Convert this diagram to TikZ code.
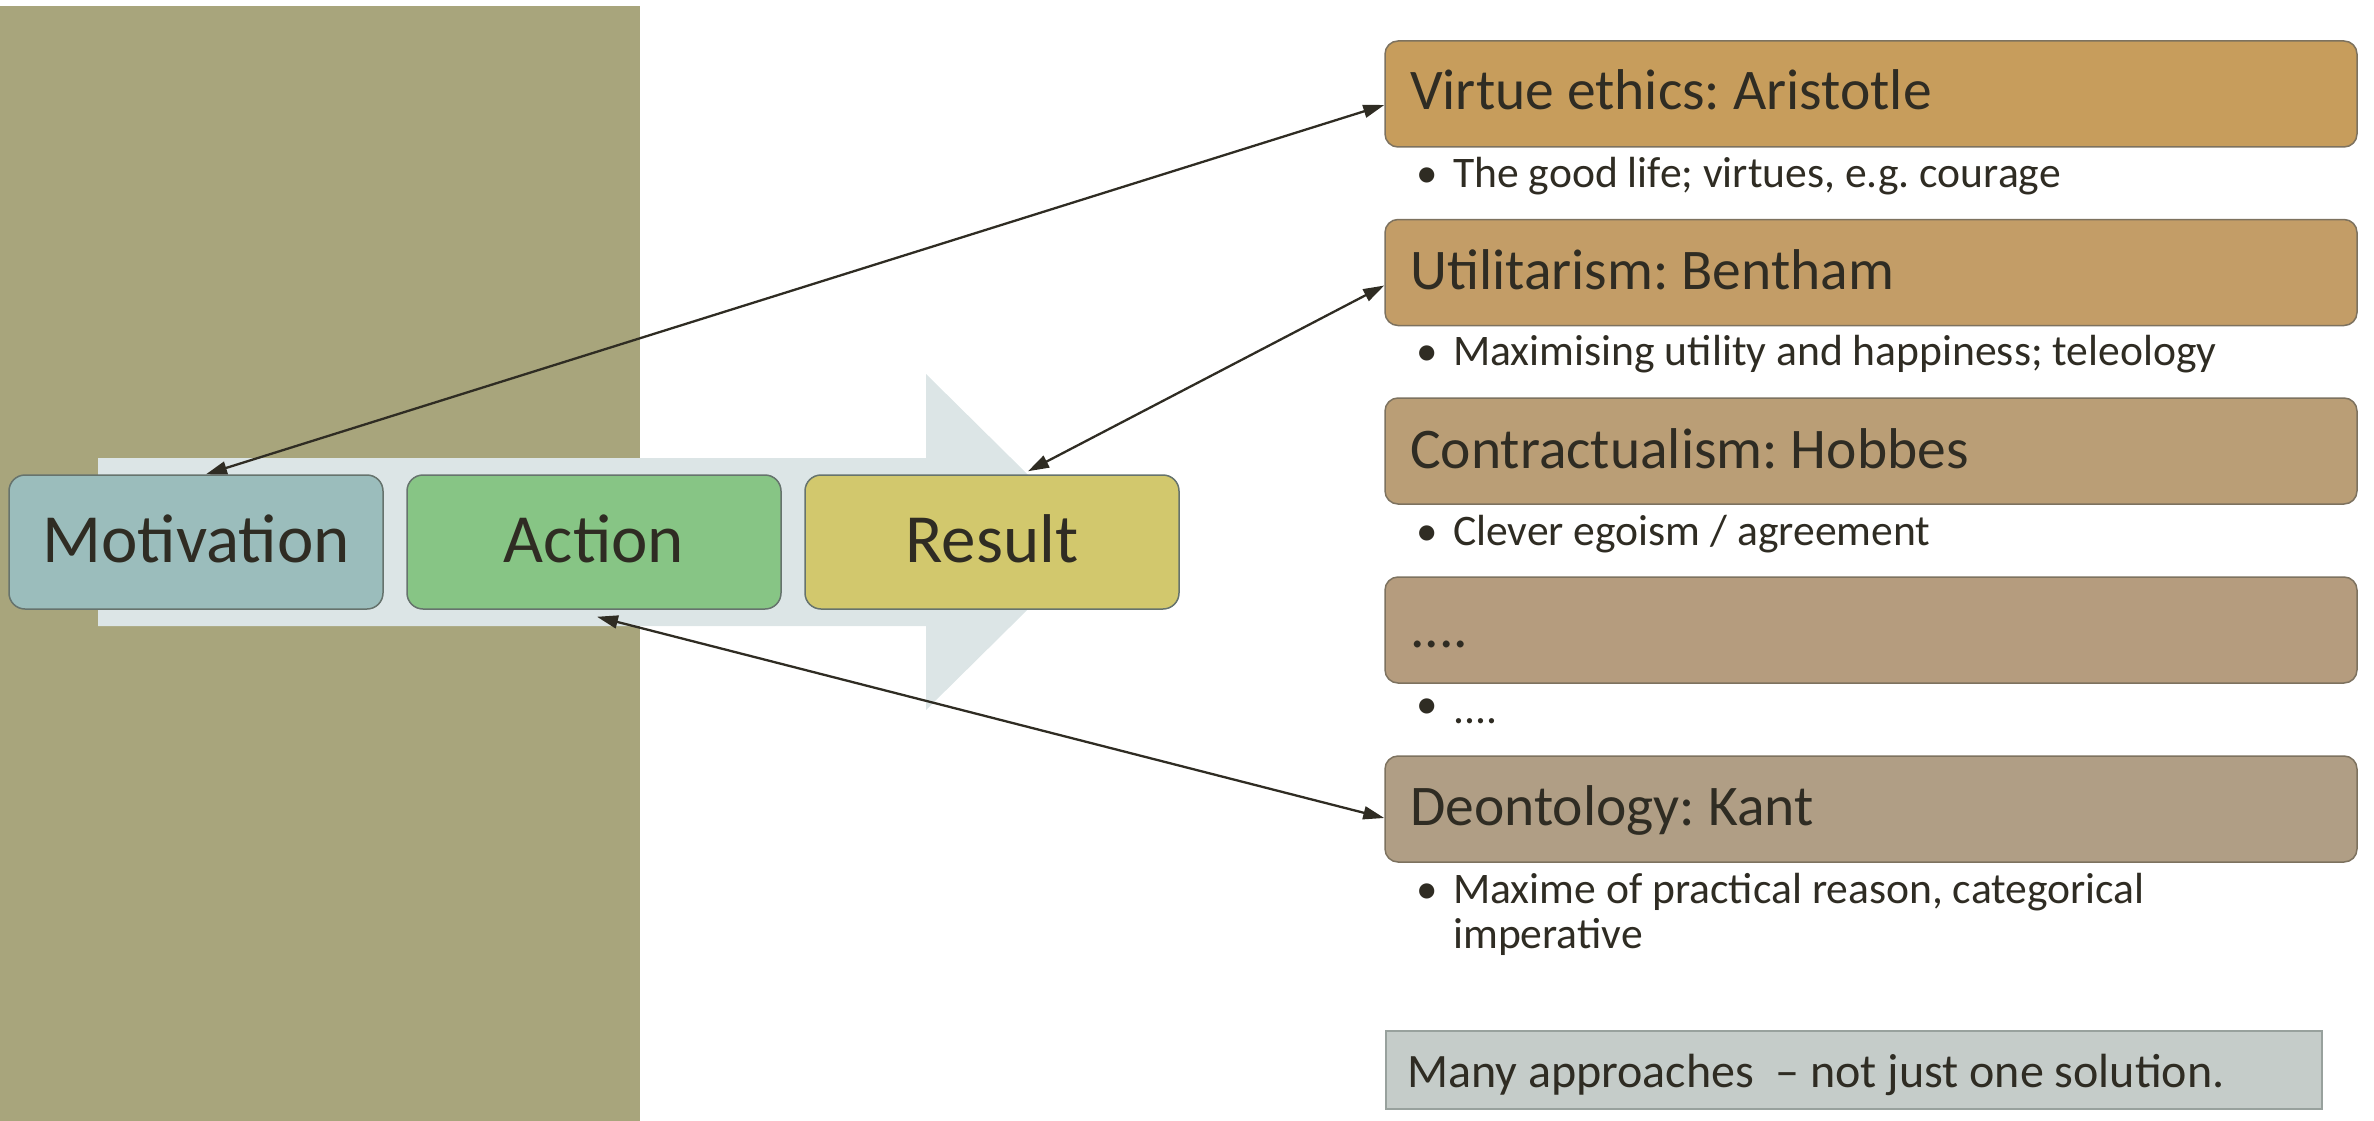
\documentclass[tikz,border=0pt]{standalone}
\usepackage{fontspec}
\setmainfont{Carlito}
\usetikzlibrary{arrows.meta}
\frenchspacing
\definecolor{bgOlive}{HTML}{A8A57C}
\definecolor{bigArrowC}{HTML}{DCE5E6}
\definecolor{motC}{HTML}{9BBDBC}
\definecolor{actC}{HTML}{87C585}
\definecolor{resC}{HTML}{D2C86D}
\definecolor{lLine}{HTML}{66736D}
\definecolor{rLine}{HTML}{7D725F}
\definecolor{virC}{HTML}{C79D5C}
\definecolor{utiC}{HTML}{C39D67}
\definecolor{conC}{HTML}{BA9E76}
\definecolor{dotC}{HTML}{B59C7E}
\definecolor{deoC}{HTML}{B09E85}
\definecolor{manyC}{HTML}{C5CCC9}
\definecolor{manyLine}{HTML}{98A19D}
\definecolor{txtC}{HTML}{2F2C23}
\begin{document}
\begin{tikzpicture}[x=1pt,y=-1pt,
  lbox/.style={draw=lLine, line width=1.5pt, rounded corners=16pt,
    minimum width=374pt, minimum height=134pt, inner sep=0pt,
    text height=40pt, text depth=0pt,
    font=\fontsize{69}{80}\selectfont, text=txtC},
  rbox/.style={draw=rLine, line width=1.5pt, rounded corners=13pt,
    minimum width=972pt, minimum height=106pt, inner sep=0pt},
  title/.style={anchor=base west, inner sep=0pt,
    font=\fontsize{57.5}{66}\selectfont, text=txtC},
  bul/.style={anchor=base, inner sep=0pt,
    font=\fontsize{43}{50}\selectfont, text=txtC},
  btext/.style={anchor=base west, inner sep=0pt,
    font=\fontsize{43.6}{50}\selectfont, text=txtC},
  link/.style={draw=txtC, line width=2.3pt,
    {Triangle[length=21pt,width=13pt]}-{Triangle[length=21pt,width=13pt]}}
]
\useasboundingbox (0,0) rectangle (2374,1121);
% background panel
\fill[bgOlive] (0,6) rectangle (640,1121);
% big process arrow
\fill[bigArrowC] (98,458) -- (926,458) -- (926,374) -- (1096,542)
  -- (926,710) -- (926,626) -- (98,626) -- cycle;
% left boxes
\node[lbox, fill=motC] (mot) at (196,542) {Motivation};
\node[lbox, fill=actC] (act) at (594,542) {Action};
\node[lbox, fill=resC] (res) at (992,542) {Result};
% right boxes
\node[rbox, fill=virC] (vir) at (1871,94) {};
\node[rbox, fill=utiC] (uti) at (1871,272.5) {};
\node[rbox, fill=conC] (con) at (1871,451) {};
\node[rbox, fill=dotC] (dts) at (1871,630) {};
\node[rbox, fill=deoC] (deo) at (1871,809) {};
% titles
\node[title] (virT) at (1410,110) {Virtue ethics: Aristotle};
\node[title] (utiT) at (1410,289) {Utilitarism: Bentham};
\node[title] (conT) at (1410,468) {Contractualism: Hobbes};
\node[title] (dtsT) at (1410,647) {....};
\node[title] (deoT) at (1410,825) {Deontology: Kant};
% bullets
\node[bul] (virB) at (1427,187) {\textbullet};
\node[btext] (virX) at (1453,187) {The good life; virtues, e.g. courage};
\node[bul] (utiB) at (1427,365) {\textbullet};
\node[btext] (utiX) at (1453,365) {Maximising utility and happiness; teleology};
\node[bul] (conB) at (1427,545) {\textbullet};
\node[btext] (conX) at (1453,545) {Clever egoism / agreement};
\node[bul] (dtsB) at (1427,718) {\textbullet};
\node[btext] (dtsX) at (1453,723) {....};
\node[bul] (deoB) at (1427,903) {\textbullet};
\node[btext] (deoX1) at (1453,903) {Maxime of practical reason, categorical};
\node[btext] (deoX2) at (1453,948) {imperative};
% conclusion box
\node[draw=manyLine, line width=1.5pt, fill=manyC, minimum width=936pt,
  minimum height=78pt, inner sep=0pt] (many) at (1854,1070) {};
\node[anchor=base west, inner sep=0pt, font=\fontsize{48}{58}\selectfont,
  text=txtC] (manyT) at (1407,1087) {Many approaches~ \textendash{} not just one solution.};
% connectors
\draw[link] ([xshift=10pt]mot.north) -- ([yshift=-11pt]vir.west);
\draw[link] ([xshift=36pt,yshift=3pt]res.north) -- ([yshift=-13pt]uti.west);
\draw[link] ([xshift=3pt,yshift=-7pt]act.south) -- ([yshift=-9pt]deo.west);
\end{tikzpicture}
\end{document}
